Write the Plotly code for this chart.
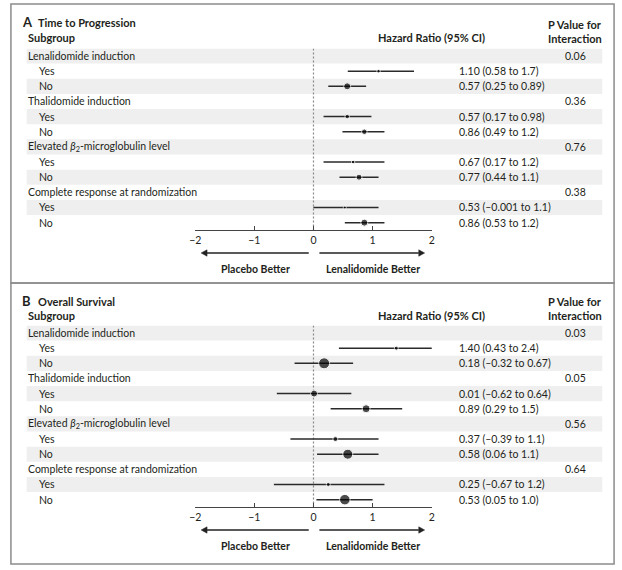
import plotly.graph_objects as go

# ---------------- data ----------------
subgroups = ["Lenalidomide induction", "Thalidomide induction",
             "Elevated <i>β</i><sub>2</sub>-microglobulin level",
             "Complete response at randomization"]
levels = ["Yes", "No"]

ttp_hr = [1.10, 0.57, 0.57, 0.86, 0.67, 0.77, 0.53, 0.86]
ttp_lo = [0.58, 0.25, 0.17, 0.49, 0.17, 0.44, -0.001, 0.53]
ttp_hi = [1.7, 0.89, 0.98, 1.2, 1.2, 1.1, 1.1, 1.2]
ttp_p = ["0.06", "0.36", "0.76", "0.38"]
ttp_weight = [3.5, 7, 4.5, 5.5, 3.5, 6, 3, 7]

os_hr = [1.40, 0.18, 0.01, 0.89, 0.37, 0.58, 0.25, 0.53]
os_lo = [0.43, -0.32, -0.62, 0.29, -0.39, 0.06, -0.67, 0.05]
os_hi = [2.4, 0.67, 0.64, 1.5, 1.1, 1.1, 1.2, 1.0]
os_p = ["0.03", "0.05", "0.56", "0.64"]
os_weight = [4, 11, 7, 8, 5, 10, 4, 10.5]

tick_vals = [-2, -1, 0, 1, 2]

# ---------------- layout helpers ----------------
W, H = 622, 570
FONT = "Lato"
TXT = "#231f20"
SPACING = 15.15
BODY = 10.5
HEAD = 11


def px(x):
    return x / W


def py(y):
    return 1 - y / H


panels = [
    dict(key="A", title="Time to Progression", hr=ttp_hr, lo=ttp_lo, hi=ttp_hi,
         p=ttp_p, w=ttp_weight, top=4, bottom=283, row0=56, xa="x", ya="y"),
    dict(key="B", title="Overall Survival", hr=os_hr, lo=os_lo, hi=os_hi,
         p=os_p, w=os_weight, top=283, bottom=564, row0=333, xa="x2", ya="y2"),
]

fig = go.Figure()
shapes = []
annotations = []
layout_axes = {}


def fmt(v):
    return str(v).replace("-", "–")


def ann(text, x, y, xref="paper", yref="paper", xanchor="left", size=BODY, **kw):
    d = dict(text=text, x=x, y=y, xref=xref, yref=yref, xanchor=xanchor,
             yanchor="middle", showarrow=False,
             font=dict(family=FONT, size=size, color=TXT))
    d.update(kw)
    annotations.append(d)


for i, pn in enumerate(panels):
    off = pn["row0"] - 56
    ytop = pn["row0"] - 0.5 * SPACING
    ybot = pn["row0"] + 11.5 * SPACING
    sfx = "" if i == 0 else "2"
    layout_axes["xaxis" + sfx] = dict(
        domain=[px(192), px(432)], range=[-2, 2], anchor=pn["ya"],
        tickvals=tick_vals, ticks="inside", ticklen=4, tickcolor="#444",
        showline=True, linecolor="#444", linewidth=1, showgrid=False,
        zeroline=False, tickfont=dict(family=FONT, size=BODY, color=TXT),
        fixedrange=True)
    layout_axes["yaxis" + sfx] = dict(
        domain=[py(ybot), py(ytop)], range=[11.5, -0.5], visible=False,
        showgrid=False, zeroline=False, fixedrange=True)

    rows_y = []
    for g in range(4):
        rows_y += [3 * g + 1, 3 * g + 2]

    # shaded bands
    for r in range(0, 12, 2):
        shapes.append(dict(type="rect", xref="paper", yref=pn["ya"],
                           x0=px(21), x1=px(605), y0=r - 0.5, y1=r + 0.5,
                           fillcolor="#efefef", line=dict(width=0), layer="below"))
    # zero line
    shapes.append(dict(type="line", xref=pn["xa"], yref=pn["ya"], x0=0, x1=0,
                       y0=-0.5, y1=11.5, layer="below",
                       line=dict(color="#8a8a8a", width=1.2, dash="2px,2px")))
    # panel border
    shapes.append(dict(type="rect", xref="paper", yref="paper",
                       x0=px(5), x1=px(617), y0=py(pn["bottom"]), y1=py(pn["top"]),
                       line=dict(color="#8c8c8c", width=1.5)))

    # direction arrows below the axis
    ya = py(253 + off)
    hh = 3.2 / H
    for x_start, x_base, x_tip in ((-0.08, -1.8, -1.9), (0.1, 1.78, 1.88)):
        shapes.append(dict(type="line", xref=pn["xa"], yref="paper",
                           x0=x_start, x1=x_base, y0=ya, y1=ya,
                           line=dict(color="#222", width=1.3)))
        shapes.append(dict(type="path", xref=pn["xa"], yref="paper",
                           path=f"M {x_tip},{ya} L {x_base},{ya + hh} "
                                f"L {x_base},{ya - hh} Z",
                           fillcolor="#222", line=dict(color="#222", width=0.5)))

    # estimates with CI
    fig.add_trace(go.Scatter(
        x=pn["hr"], y=rows_y, mode="markers", xaxis=pn["xa"], yaxis=pn["ya"],
        marker=dict(size=pn["w"], color="#000000"),
        error_x=dict(type="data", symmetric=False,
                     array=[h - e for h, e in zip(pn["hi"], pn["hr"])],
                     arrayminus=[e - l for e, l in zip(pn["hr"], pn["lo"])],
                     width=0, thickness=1.5, color="#2a2a2a"),
        showlegend=False, hoverinfo="skip", cliponaxis=False))

    # titles and headers
    ann("<b>" + pn["key"] + "</b>", px(14), py(pn["top"] + 18), size=13)
    ann("<b>" + pn["title"] + "</b>", px(30), py(pn["top"] + 18), size=HEAD)
    ann("<b>Subgroup</b>", px(20), py(pn["row0"] - 18), size=HEAD)
    ann("<b>Hazard Ratio (95% CI)</b>", px(432), py(pn["row0"] - 18),
        xanchor="center", size=HEAD)
    ann("<b>P Value for<br>Interaction</b>", px(607), py(pn["row0"] - 24.5),
        xanchor="right", size=HEAD, align="left")

    # row labels
    for g in range(4):
        ann(subgroups[g], px(20), 3 * g, yref=pn["ya"])
        ann(pn["p"][g], px(591), 3 * g, yref=pn["ya"], xanchor="right")
        for k in range(2):
            idx = 2 * g + k
            ann(levels[k], px(31), 3 * g + 1 + k, yref=pn["ya"])
            txt = f"{pn['hr'][idx]:.2f} ({fmt(pn['lo'][idx])} to {fmt(pn['hi'][idx])})"
            ann(txt, px(458), 3 * g + 1 + k, yref=pn["ya"])

    # direction labels
    ann("<b>Placebo Better</b>", -0.98, py(269 + off), xref=pn["xa"],
        xanchor="center", size=10.5)
    ann("<b>Lenalidomide Better</b>", 1.0, py(269 + off), xref=pn["xa"],
        xanchor="center", size=10.5)

fig.update_layout(
    width=W, height=H, margin=dict(l=0, r=0, t=0, b=0),
    paper_bgcolor="white", plot_bgcolor="rgba(0,0,0,0)",
    shapes=shapes, annotations=annotations,
    font=dict(family=FONT, color=TXT), **layout_axes)

fig.write_html("out.html", config={"displayModeBar": False},
               post_script="document.body.style.margin='0';")
